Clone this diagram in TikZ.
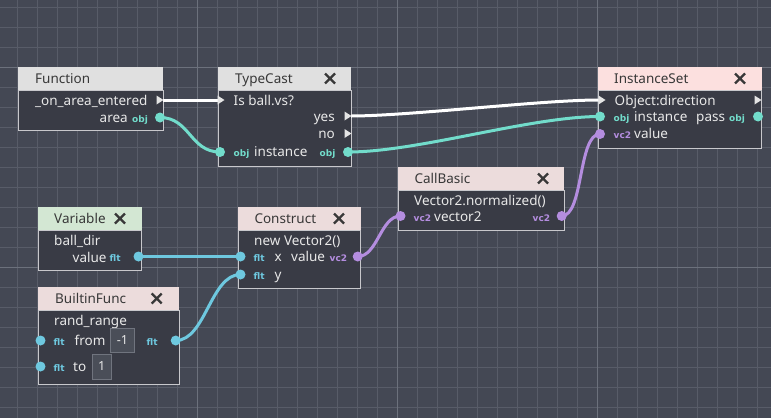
\documentclass[tikz,border=0pt]{standalone}
\usepackage{fontspec}
\setmainfont{Noto Sans}
\newfontfamily\iconfont{DejaVu Sans}
\definecolor{bgc}{HTML}{444854}
\definecolor{gridminor}{HTML}{585C68}
\definecolor{gridmajor}{HTML}{6C717C}
\definecolor{bodyc}{HTML}{393B45}
\definecolor{borderc}{HTML}{C8C8CC}
\definecolor{htc}{HTML}{383838}
\definecolor{btc}{HTML}{E8E8E8}
\definecolor{hgray}{HTML}{E0E0E0}
\definecolor{hpink}{HTML}{FCE0DF}
\definecolor{hgreen}{HTML}{D3E7D3}
\definecolor{hrose}{HTML}{ECDCDC}
\definecolor{cobj}{HTML}{72DCCB}
\definecolor{cflt}{HTML}{6EC8DF}
\definecolor{cvec}{HTML}{B48DDF}
\definecolor{tric}{HTML}{E4E4E4}
\definecolor{valfill}{HTML}{4A4E58}
\definecolor{valdraw}{HTML}{70747E}
\pgfdeclarelayer{gridl}\pgfdeclarelayer{boxl}\pgfdeclarelayer{wirel}
\pgfsetlayers{gridl,boxl,wirel,main}
\tikzset{
  hdrbox/.style={anchor=north west, inner sep=0, outer sep=0, draw=none},
  bodybox/.style={anchor=north west, inner sep=0, outer sep=0, fill=bodyc, draw=borderc, line width=1pt},
  htext/.style={anchor=mid west, inner sep=0, yshift=-2.6pt, text=htc, font=\fontsize{13.5}{15}\selectfont},
  btext/.style={anchor=mid west, inner sep=0, yshift=-2.6pt, text=btc, font=\fontsize{13.5}{15}\selectfont},
  btextr/.style={btext, anchor=mid east},
  ticon/.style={anchor=mid west, inner sep=0, yshift=-1.4pt, text=#1, font=\iconfont\fontsize{9}{10}\selectfont\bfseries},
  port/.style={circle, inner sep=0, outer sep=0, minimum size=10pt, fill=#1},
  wire/.style={line width=3pt, draw=#1},
  closex/.style={line width=2.2pt, draw=htc},
  valbox/.style={inner sep=0, fill=valfill, draw=valdraw, line width=0.8pt, text=btc, font=\fontsize{12.5}{14}\selectfont},
}
\newcommand\vsbox[7]{%
  \node[hdrbox, fill=#7, minimum width=#4pt, minimum height=#5pt] (#1h) at (#2,#3) {};
  \node[bodybox, minimum width=#4pt, minimum height=#6pt] (#1) at (#2,#3+#5) {};
}
\newcommand\xmark[1]{\draw[closex] (#1) ++(-5,-5) -- ++(10,10) ++(-10,0) -- ++(10,-10);}
\newcommand\tri[1]{\fill[tric] (#1) ++(-3.5,-4.5) -- ++(7,4.5) -- ++(-7,4.5) -- cycle;}
\begin{document}
\begin{tikzpicture}[x=1pt,y=-1pt]
\useasboundingbox (0,0) rectangle (771,418);
\begin{pgfonlayer}{gridl}
  \fill[bgc] (0,0) rectangle (771,418);
  \foreach \i in {0,...,37} \draw[gridminor, line width=0.8pt] ({17.3+20*\i},0) -- ({17.3+20*\i},418);
  \foreach \i in {0,...,20} \draw[gridminor, line width=0.8pt] (0,{7.3+20*\i}) -- (771,{7.3+20*\i});
  \foreach \x in {197.3,397.3,597.3} \draw[gridmajor, line width=1pt] (\x,0) -- (\x,418);
  \foreach \y in {67.3,267.3} \draw[gridmajor, line width=1pt] (0,\y) -- (771,\y);
\end{pgfonlayer}
\begin{pgfonlayer}{boxl}
  \vsbox{fn}{18.3}{67.3}{145}{22.7}{40}{hgray}
  \vsbox{tc}{218.3}{67.3}{132.7}{22.7}{76.7}{hgray}
  \vsbox{is}{598.3}{67.3}{163.4}{22.7}{58.3}{hpink}
  \vsbox{var}{38.3}{207.3}{103.4}{22.7}{40}{hgreen}
  \vsbox{co}{238.3}{207.3}{122.4}{22.7}{58.3}{hrose}
  \vsbox{cb}{398.3}{167.3}{166}{22.7}{40}{hrose}
  \vsbox{bf}{38.3}{287.3}{140.7}{22.7}{74.3}{hrose}
\end{pgfonlayer}
% ---- Function
\node[htext] (fnt) at (35,78.5) {Function};
\node[btext] (fn1) at (35,100) {\_on\_area\_entered};
\node[btextr] (fn2) at (128,117.5) {area};
\node[ticon=cobj] (fn2i) at (132,118) {obj};
\coordinate (fn-x) at (160,100);
\node[port=cobj] (fn-area) at (160,117.5) {};
% ---- TypeCast
\node[htext] (tct) at (235,78.5) {TypeCast};
\coordinate (tc-xm) at (330,78.5);
\node[btext] (tc1) at (233.5,100) {Is ball.vs?};
\node[btextr] (tc2) at (335,116.5) {yes};
\node[btextr] (tc3) at (335,133.5) {no};
\node[ticon=cobj] (tc4i) at (233.5,152.5) {obj};
\node[btext] (tc4) at (254,151.5) {instance};
\node[ticon=cobj] (tc4o) at (319.5,152.5) {obj};
\coordinate (tc-x) at (221,100);
\coordinate (tc-yes) at (348,116);
\coordinate (tc-no) at (348,133.5);
\node[port=cobj] (tc-in) at (220,152) {};
\node[port=cobj] (tc-out) at (348,152) {};
% ---- InstanceSet
\node[htext] (ist) at (614,78.5) {InstanceSet};
\coordinate (is-xm) at (740,78.5);
\node[btext] (is1) at (614.5,100) {Object:direction};
\node[ticon=cobj] (is2i) at (613.5,117.5) {obj};
\node[btext] (is2) at (634,116.5) {instance};
\node[btext] (is2b) at (696,116.5) {pass};
\node[ticon=cobj] (is2o) at (729,117.5) {obj};
\node[ticon=cvec] (is3i) at (613.5,134.5) {vc2};
\node[btext] (is3) at (634,133.5) {value};
\coordinate (is-x) at (602,100);
\coordinate (is-xo) at (758,100);
\node[port=cobj] (is-inst) at (600,116.5) {};
\node[port=cobj] (is-pass) at (758,116.5) {};
\node[port=cvec] (is-val) at (600,134) {};
% ---- Variable
\node[htext] (vart) at (54,218.5) {Variable};
\coordinate (var-xm) at (120,218.5);
\node[btext] (var1) at (54,240) {ball\_dir};
\node[btext] (var2) at (72.5,257) {value};
\node[ticon=cflt] (var2i) at (109.5,257.5) {flt};
\node[port=cflt] (var-val) at (138.5,256.5) {};
% ---- Construct
\node[htext] (cot) at (254.3,218.5) {Construct};
\coordinate (co-xm) at (339,218.5);
\node[btext] (co1) at (254,240) {new Vector2()};
\node[ticon=cflt] (co2i) at (253.5,257.5) {flt};
\node[btext] (co2) at (274.5,256.5) {x};
\node[btext] (co2b) at (291,256.5) {value};
\node[ticon=cvec] (co2o) at (329.5,257.5) {vc2};
\node[ticon=cflt] (co3i) at (253.5,275) {flt};
\node[btext] (co3) at (274.5,274) {y};
\node[port=cflt] (co-x) at (240.5,256.5) {};
\node[port=cflt] (co-y) at (240.5,274.5) {};
\node[port=cvec] (co-val) at (357.7,256.5) {};
% ---- CallBasic
\node[htext] (cbt) at (414.3,178.5) {CallBasic};
\coordinate (cb-xm) at (543,178.5);
\node[btext] (cb1) at (414,200) {Vector2.normalized()};
\node[ticon=cvec] (cb2i) at (413.5,217) {vc2};
\node[btext] (cb2) at (434,216) {vector2};
\node[ticon=cvec] (cb2o) at (532.5,217) {vc2};
\node[port=cvec] (cb-in) at (400.5,216) {};
\node[port=cvec] (cb-out) at (561.7,216) {};
% ---- BuiltinFunc
\node[htext] (bft) at (55,298.5) {BuiltinFunc};
\coordinate (bf-xm) at (156.7,298.5);
\node[btext] (bf1) at (54,320) {rand\_range};
\node[ticon=cflt] (bf2i) at (53.5,341) {flt};
\node[btext] (bf2) at (74.5,340) {from};
\node[valbox, minimum width=23.6pt, minimum height=23.6pt] (bf-fromv) at (122.5,340.5) {-1};
\node[ticon=cflt] (bf2o) at (146.5,341) {flt};
\node[ticon=cflt] (bf3i) at (53.5,367) {flt};
\node[btext] (bf3) at (73,366) {to};
\node[valbox, minimum width=19pt, minimum height=25pt] (bf-tov) at (101.8,366.5) {1};
\node[port=cflt] (bf-from) at (40.5,340.5) {};
\node[port=cflt] (bf-to) at (40.5,366.5) {};
\node[port=cflt] (bf-out) at (175.7,340.5) {};
% ---- close marks and exec triangles
\xmark{tc-xm}\xmark{is-xm}\xmark{var-xm}\xmark{co-xm}\xmark{cb-xm}\xmark{bf-xm}
\tri{fn-x}\tri{tc-x}\tri{tc-yes}\tri{tc-no}\tri{is-x}\tri{is-xo}
% ---- wires
\begin{pgfonlayer}{wirel}
  \draw[wire=white, shorten <=3pt, shorten >=3.5pt] (fn-x) -- (tc-x);
  \draw[wire=cobj] (fn-area.center) .. controls +(30,0) and +(-30,0) .. (tc-in.center);
  \draw[wire=white, shorten <=3pt, shorten >=3.5pt] (tc-yes) .. controls +(60,0) and +(-60,0) .. (is-x);
  \draw[wire=cobj] (tc-out.center) .. controls +(70,0) and +(-70,0) .. (is-inst.center);
  \draw[wire=cflt] (var-val.center) -- (co-x.center);
  \draw[wire=cflt] (bf-out.center) .. controls +(30,0) and +(-30,0) .. (co-y.center);
  \draw[wire=cvec] (co-val.center) .. controls +(20,0) and +(-20,0) .. (cb-in.center);
  \draw[wire=cvec] (cb-out.center) .. controls +(22,0) and +(-22,0) .. (is-val.center);
\end{pgfonlayer}
\end{tikzpicture}
\end{document}
